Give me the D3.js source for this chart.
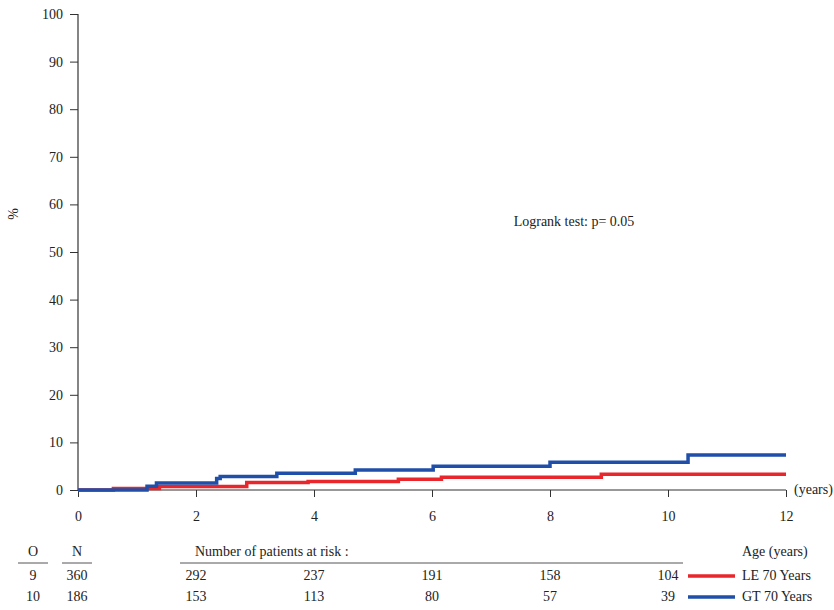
<!DOCTYPE html>
<html><head><meta charset="utf-8">
<script src="https://cdn.jsdelivr.net/npm/d3@7"></script>
<style>body{margin:0;background:#fff}svg{display:block}svg text{font-family:"Liberation Serif","Times New Roman","DejaVu Serif",serif !important;fill:#222}</style>
</head><body><div id="c"></div>
<script>
const yTicks = [0,10,20,30,40,50,60,70,80,90,100];
const xTicks = [0,2,4,6,8,10,12];
const riskTimes = [2,4,6,8,10];
const groups = ["LE 70 Years","GT 70 Years"];
const colors = ["#e8262b","#1f4fa8"];
const observed = [9,10];
const nStart = [360,186];
const atRiskLE = [292,237,191,158,104];
const atRiskGT = [153,113,80,57,39];
// step curves: [time, cumulative %]
const curveLE = [[0,0],[0.6,0.3],[1.38,0.75],[2.86,1.55],[3.9,1.8],[5.43,2.25],[6.16,2.7],[8.87,3.3],[12,3.3]];
const curveGT = [[0,0],[1.17,0.8],[1.33,1.45],[2.35,2.4],[2.41,2.85],[3.37,3.5],[4.7,4.2],[6.02,5.0],[8.0,5.85],[10.34,7.35],[12,7.35]];

const FF='"Liberation Serif","Times New Roman","DejaVu Serif",serif';
const W=834,H=610;
const svg=d3.select("#c").append("svg").attr("width",W).attr("height",H).attr("font-family",FF);
const x=d3.scaleLinear().domain([0,12]).range([78,786]);
const y=d3.scaleLinear().domain([0,100]).range([490,14]);
const axCol="#333";
const fs="14px";

// y axis
const ya=svg.append("g").attr("transform","translate(78,0)")
  .call(d3.axisLeft(y).tickValues(yTicks).tickSize(8).tickPadding(7));
ya.attr("font-family",FF).attr("font-size",14);
ya.select(".domain").attr("stroke",axCol).attr("stroke-width",1.2).attr("d","M0,14V490");
ya.selectAll(".tick line").attr("stroke",axCol);
ya.selectAll(".tick text").style("font-size",fs).attr("fill","#222");
svg.append("text").attr("transform","translate(18,214) rotate(-90)").attr("text-anchor","middle")
  .style("font-size",fs).text("%");

// x axis
const xa=svg.append("g").attr("transform","translate(0,490)")
  .call(d3.axisBottom(x).tickValues(xTicks).tickSize(7).tickPadding(14));
xa.attr("font-family",FF).attr("font-size",14);
xa.select(".domain").attr("stroke",axCol).attr("stroke-width",1.2).attr("d","M78,0H786");
xa.selectAll(".tick line").attr("stroke",axCol);
xa.selectAll(".tick text").style("font-size",fs).attr("fill","#222");
svg.append("text").attr("x",794).attr("y",494).style("font-size",fs).text("(years)");

// curves
const line=d3.line().x(d=>x(d[0])).y(d=>y(d[1])).curve(d3.curveStepAfter);
[curveLE,curveGT].forEach((c,i)=>{
  svg.append("path").datum(c).attr("d",line).attr("fill","none")
    .attr("stroke",colors[i]).attr("stroke-width",3.5);
});

svg.append("text").attr("x",574).attr("y",226).attr("text-anchor","middle")
  .style("font-size",fs).text("Logrank test: p= 0.05");

// table
svg.append("text").attr("x",33).attr("y",556).attr("text-anchor","middle").style("font-size",fs).text("O");
svg.append("text").attr("x",77).attr("y",556).attr("text-anchor","middle").style("font-size",fs).text("N");
svg.append("text").attr("x",195).attr("y",556).style("font-size",fs).text("Number of patients at risk :");
[[18,48],[62,92],[180,683]].forEach(s=>svg.append("line").attr("x1",s[0]).attr("x2",s[1])
  .attr("y1",563).attr("y2",563).attr("stroke","#555").attr("stroke-width",1));
const rowsY=[580,601];
[atRiskLE,atRiskGT].forEach((arr,i)=>{
  svg.append("text").attr("x",33).attr("y",rowsY[i]).attr("text-anchor","middle").style("font-size",fs).text(observed[i]);
  svg.append("text").attr("x",77).attr("y",rowsY[i]).attr("text-anchor","middle").style("font-size",fs).text(nStart[i]);
  arr.forEach((v,j)=>svg.append("text").attr("x",x(riskTimes[j])).attr("y",rowsY[i]).attr("text-anchor","middle").style("font-size",fs).text(v));
  svg.append("line").attr("x1",688).attr("x2",735).attr("y1",rowsY[i]-4).attr("y2",rowsY[i]-4)
    .attr("stroke",colors[i]).attr("stroke-width",3.5);
  svg.append("text").attr("x",742).attr("y",rowsY[i]).style("font-size",fs).text(groups[i]);
});
svg.append("text").attr("x",742).attr("y",556).style("font-size",fs).text("Age (years)");
</script></body></html>
